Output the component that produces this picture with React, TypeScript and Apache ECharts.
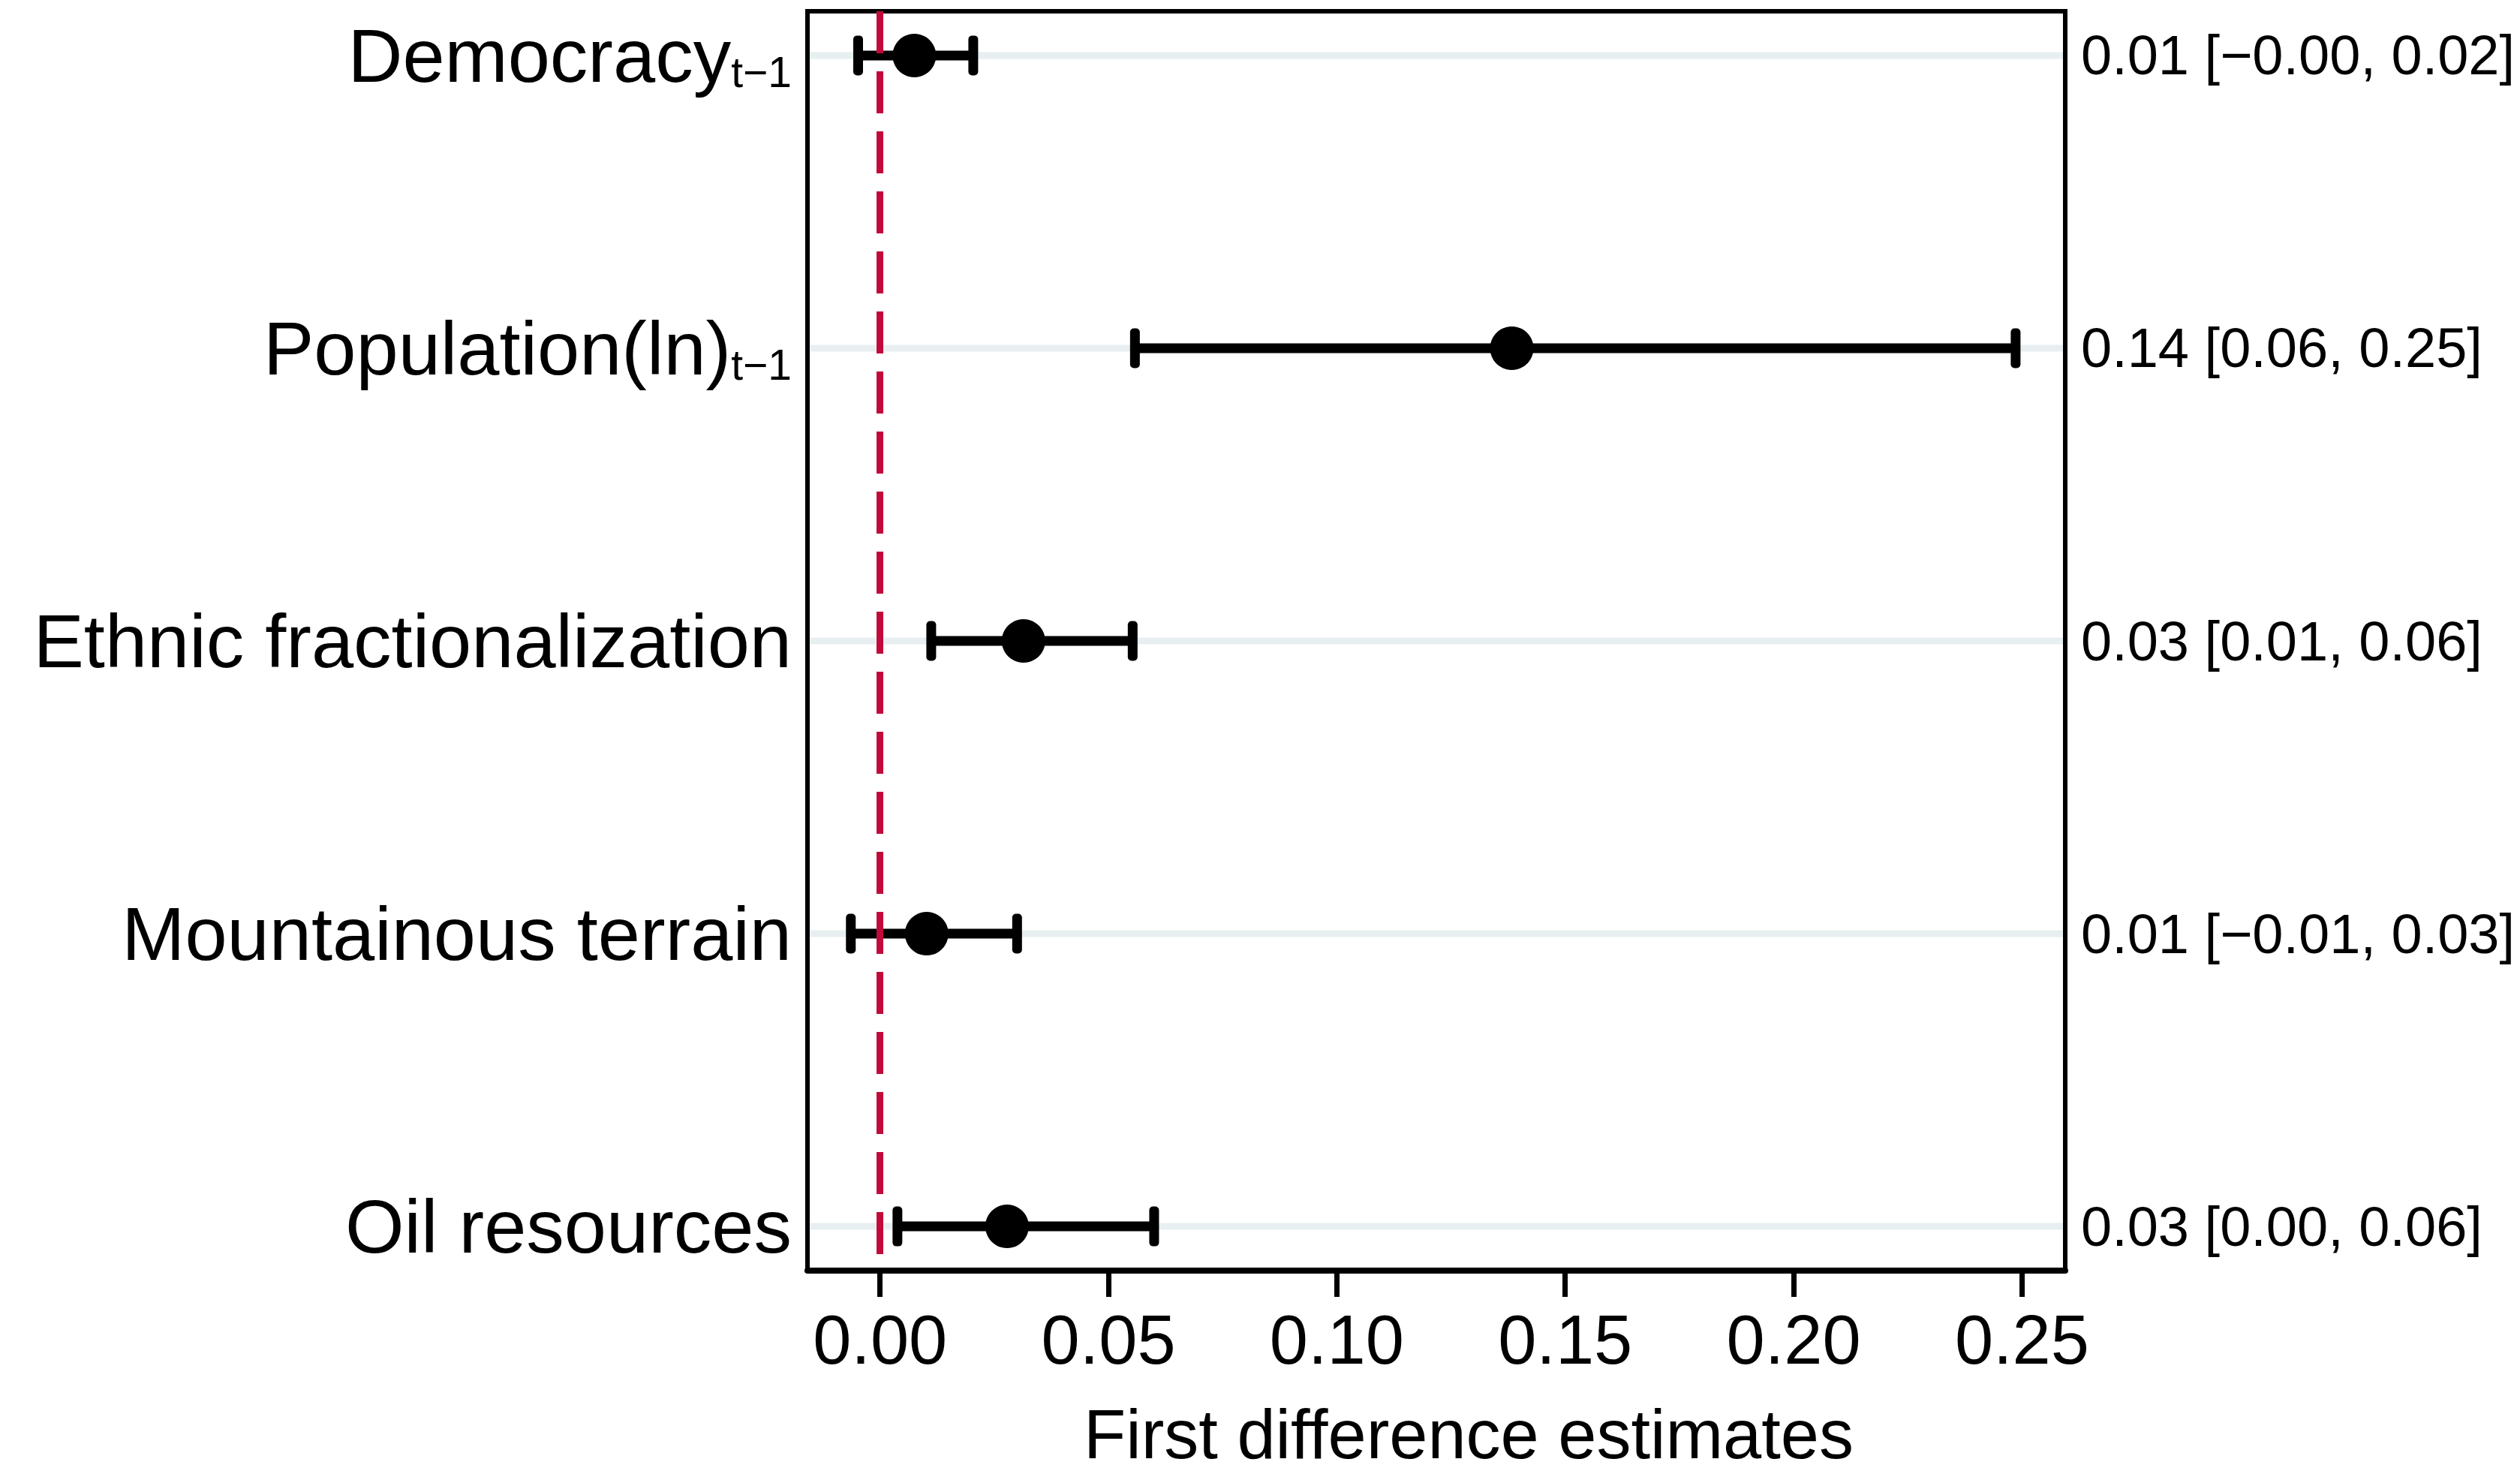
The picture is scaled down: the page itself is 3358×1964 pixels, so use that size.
import React, { useEffect, useRef } from "react";
import * as echarts from "echarts";

const categories = [
  "Democracy",
  "Population(ln)",
  "Ethnic fractionalization",
  "Mountainous terrain",
  "Oil resources",
];
const subscripts = ["t−1", "t−1", "", "", ""];
const estimates = [0.0075, 0.1383, 0.0314, 0.0102, 0.0278];
const lowerCI = [-0.0048, 0.0558, 0.0112, -0.0064, 0.0038];
const upperCI = [0.0204, 0.2486, 0.0553, 0.03, 0.06];
const annotations = [
  "0.01 [−0.00, 0.02]",
  "0.14 [0.06, 0.25]",
  "0.03 [0.01, 0.06]",
  "0.01 [−0.01, 0.03]",
  "0.03 [0.00, 0.06]",
];
const xTicks = [0, 0.05, 0.1, 0.15, 0.2, 0.25];
const rowIndex = [0, 1, 2, 3, 4];

const FONT = "'Liberation Sans', Arial, Helvetica, sans-serif";

export default function App() {
  const ref = useRef<HTMLDivElement>(null);

  useEffect(() => {
    if (!ref.current) return;
    const chart = echarts.init(ref.current, null, { renderer: "svg" });

    const yCommon = {
      type: "value",
      inverse: true,
      min: -0.151,
      max: 4.151,
      axisLine: { show: false },
      axisTick: { show: false },
      splitLine: { show: false },
    };

    const option = {
      animation: false,
      backgroundColor: "#ffffff",
      textStyle: { fontFamily: FONT, color: "#000" },
      grid: {
        left: 1076,
        right: 606,
        top: 15,
        bottom: 271,
        show: true,
        borderColor: "#000",
        borderWidth: 6,
        backgroundColor: "transparent",
        containLabel: false,
      },
      xAxis: {
        type: "value",
        min: -0.01589,
        max: 0.25946,
        splitLine: { show: false },
        axisLine: { show: true, onZero: false, lineStyle: { color: "#000", width: 8 } },
        axisTick: {
          show: true,
          customValues: xTicks,
          length: 35,
          lineStyle: { color: "#000", width: 7 },
        },
        axisLabel: {
          customValues: xTicks,
          formatter: (v: number) => v.toFixed(2),
          fontSize: 92,
          fontFamily: FONT,
          color: "#000",
          margin: 46,
        },
        name: "First difference estimates",
        nameLocation: "middle",
        nameGap: 172,
        nameTextStyle: {
          fontSize: 92,
          fontFamily: FONT,
          color: "#000",
          padding: [0, 0, 0, 86],
        },
      },
      yAxis: [
        {
          ...yCommon,
          position: "left",
          axisLabel: {
            customValues: rowIndex,
            margin: 21,
            fontSize: 101,
            fontFamily: FONT,
            color: "#000",
            formatter: (v: number) => {
              const i = Math.round(v);
              const main = `{m|${categories[i]}}`;
              return subscripts[i] ? `${main}{s|${subscripts[i]}}` : main;
            },
            rich: {
              m: { fontSize: 101, fontFamily: FONT, color: "#000", lineHeight: 101 },
              s: {
                fontSize: 57,
                fontFamily: FONT,
                color: "#000",
                lineHeight: 44,
                verticalAlign: "bottom",
              },
            },
          },
        },
        {
          ...yCommon,
          position: "right",
          axisLabel: {
            customValues: rowIndex,
            margin: 21,
            fontSize: 74,
            fontFamily: FONT,
            color: "#000",
            formatter: (v: number) => annotations[Math.round(v)],
          },
        },
      ],
      series: [
        {
          type: "custom",
          name: "rows",
          z: 1,
          silent: true,
          data: rowIndex.map((i) => [0, i]),
          encode: { x: 0, y: 1 },
          renderItem: (params: any, api: any) => {
            const cs = params.coordSys;
            const y = api.coord([0, api.value(1)])[1];
            return {
              type: "line",
              shape: { x1: cs.x + 3, y1: y, x2: cs.x + cs.width - 3, y2: y },
              style: { stroke: "#e8eff1", lineWidth: 9 },
            };
          },
        },
        {
          type: "custom",
          name: "ci",
          z: 2,
          silent: true,
          data: rowIndex.map((i) => [lowerCI[i], i, upperCI[i]]),
          encode: { x: [0, 2], y: 1 },
          renderItem: (params: any, api: any) => {
            const row = api.value(1);
            const p1 = api.coord([api.value(0), row]);
            const p2 = api.coord([api.value(2), row]);
            const capW = 13;
            const capH = 53;
            return {
              type: "group",
              children: [
                {
                  type: "line",
                  shape: { x1: p1[0], y1: p1[1], x2: p2[0], y2: p2[1] },
                  style: { stroke: "#000", lineWidth: 13 },
                },
                {
                  type: "rect",
                  shape: { x: p1[0] - capW / 2, y: p1[1] - capH / 2, width: capW, height: capH, r: 5 },
                  style: { fill: "#000" },
                },
                {
                  type: "rect",
                  shape: { x: p2[0] - capW / 2, y: p2[1] - capH / 2, width: capW, height: capH, r: 5 },
                  style: { fill: "#000" },
                },
              ],
            };
          },
        },
        {
          type: "scatter",
          name: "estimate",
          z: 3,
          silent: true,
          symbol: "circle",
          symbolSize: 58,
          itemStyle: { color: "#000", opacity: 1 },
          data: rowIndex.map((i) => [estimates[i], i]),
          markLine: {
            silent: true,
            symbol: ["none", "none"],
            label: { show: false },
            lineStyle: { color: "#c20a3a", width: 9, type: [56, 24] },
            data: [{ xAxis: 0 }],
          },
        },
      ],
    };

    chart.setOption(option as any);
    return () => {
      chart.dispose();
    };
  }, []);

  return (
    <div
      ref={ref}
      style={{ position: "absolute", left: 0, top: 0, width: 3358, height: 1964 }}
    />
  );
}
